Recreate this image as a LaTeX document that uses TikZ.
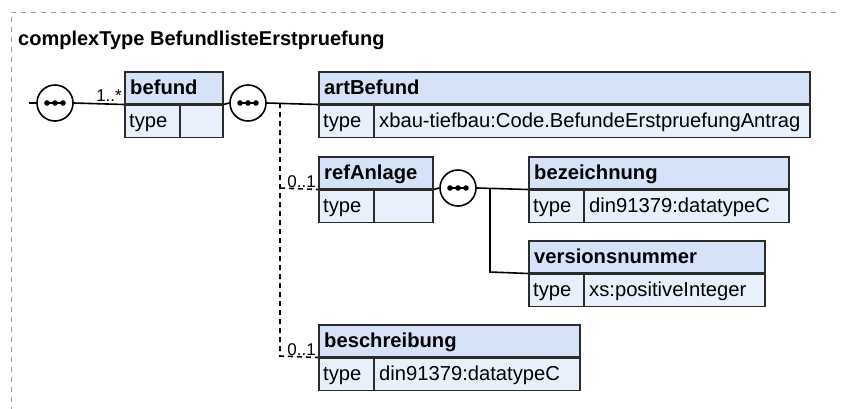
\documentclass[tikz,border=0pt]{standalone}
\usepackage{fontspec}
\setmainfont{Liberation Sans}
\newfontfamily\boxfont{Liberation Sans}
\usetikzlibrary{calc,shadows}
\definecolor{hdrfill}{HTML}{D6E2F7}
\definecolor{typfill}{HTML}{E8F0FC}
\definecolor{boxline}{HTML}{2B2B2B}
\definecolor{frame}{HTML}{9A9A9A}
\tikzset{
  boxrect/.style={draw=boxline, line width=1.5pt, anchor=north west, inner sep=0pt, minimum height=32pt,
    drop shadow={shadow xshift=1.2pt, shadow yshift=-1.2pt, fill=black!35, opacity=1}},
  hdr/.style={boxrect, fill=hdrfill},
  typ/.style={boxrect, fill=typfill},
  hdrtext/.style={anchor=base west, inner sep=0pt, font=\boxfont\bfseries\fontsize{20.2}{22}\selectfont},
  typtext/.style={anchor=base west, inner sep=0pt, font=\boxfont\fontsize{20.2}{22}\selectfont},
  cardtext/.style={anchor=base east, inner sep=0pt, font=\boxfont\fontsize{17}{18}\selectfont},
  seqcirc/.style={circle, draw=black, line width=1.6pt, fill=white, minimum size=36pt, inner sep=0pt},
  conn/.style={draw=black, line width=1.6pt},
  optconn/.style={draw=black, line width=1.6pt, dash pattern=on 5pt off 4pt},
}
\newcommand\xelem[6]{%
  \node[hdr, minimum width=#4pt] (#1) at (#2,#3) {};
  \node[typ, minimum width=#4pt] (#1-t) at (#1.south west) {};
  \draw[boxline, line width=1.5pt] ($(#1-t.north west)+(56,0)$) -- ($(#1-t.south west)+(56,0)$);
  \node[hdrtext] (#1-l) at ($(#1.north west)+(6,23)$) {#5};
  \node[typtext] (#1-k) at ($(#1-t.north west)+(5,23)$) {type};
  \node[typtext] (#1-v) at ($(#1-t.north west)+(61,23)$) {#6};
}
\newcommand\seqdots[1]{%
  \draw[line width=1.6pt] ($(#1)+(-9,0)$) -- ($(#1)+(9,0)$);
  \fill ($(#1)+(-8,0)$) circle (2.8pt) ($(#1)$) circle (2.8pt) ($(#1)+(8,0)$) circle (2.8pt);
}
\begin{document}
\begin{tikzpicture}[x=1pt,y=-1pt]
\useasboundingbox (0,0) rectangle (841,408);
% outer dashed frame
\draw[frame, line width=1pt, dash pattern=on 5pt off 5pt] (11,412) -- (11,12) -- (845,12);
\node[anchor=base west, inner sep=0pt, font=\bfseries\fontsize{20}{22}\selectfont] (title) at (18,45) {complexType BefundlisteErstpruefung};

% elements
\xelem{befund}{124}{71}{98}{befund}{}
\xelem{artBefund}{318}{71}{491}{artBefund}{xbau-tiefbau:Code.BefundeErstpruefungAntrag}
\xelem{refAnlage}{318}{156}{114}{refAnlage}{}
\xelem{bezeichnung}{528}{156}{260}{bezeichnung}{din91379:datatypeC}
\xelem{versionsnummer}{528}{240}{236}{versionsnummer}{xs:positiveInteger}
\xelem{beschreibung}{318}{324}{261}{beschreibung}{din91379:datatypeC}

% sequence circles
\node[seqcirc] (s1) at (55,103) {};
\node[seqcirc] (s2) at (248,103) {};
\node[seqcirc] (s3) at (458,188) {};
\seqdots{s1}
\seqdots{s2}
\seqdots{s3}

% connectors
\coordinate (start) at (29,103);
\coordinate (j1) at (280,103);
\coordinate (j1a) at (280,188);
\coordinate (j1b) at (280,356);
\coordinate (j2) at (490,188);
\coordinate (j2b) at (490,272);
\draw[conn] (start) -- (s1.west);
\draw[conn] (s1.east) -- (befund.south west);
\draw[conn] (befund.south east) -- (s2.west);
\draw[conn] (s2.east) -- (artBefund.south west);
\draw[optconn] (j1) -- (j1b) -- (beschreibung.south west);
\draw[optconn] (j1a) -- (refAnlage.south west);
\draw[conn] (refAnlage.south east) -- (s3.west);
\draw[conn] (s3.east) -- (bezeichnung.south west);
\draw[conn] (j2) -- (j2b) -- (versionsnummer.south west);

% cardinalities
\node[cardtext] (c1) at ($(befund.south west)+(-2,-3)$) {1..*};
\node[cardtext] (c2) at ($(refAnlage.south west)+(-2,-2)$) {0..1};
\node[cardtext] (c3) at ($(beschreibung.south west)+(-2,-2)$) {0..1};
\end{tikzpicture}
\end{document}
